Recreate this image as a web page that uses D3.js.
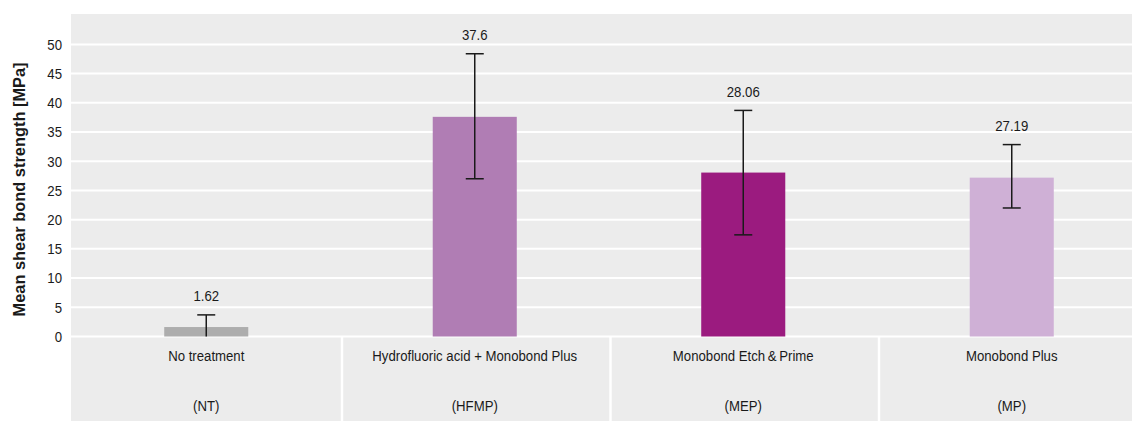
<!DOCTYPE html>
<html>
<head>
<meta charset="utf-8">
<script src="https://cdn.jsdelivr.net/npm/d3@7"></script>
<style>
  html, body { margin: 0; padding: 0; background: #ffffff; }
  svg { display: block; }
  .lbl { font-family: "Liberation Sans", Arial, sans-serif; fill: #1a1a1a; font-size: 15px; }
  .title { font-family: "Liberation Sans", Arial, sans-serif; font-weight: bold; fill: #1a1a1a; }
</style>
</head>
<body>
<svg id="chart" width="1132" height="421"></svg>
<script>
const categories = ["No treatment", "Hydrofluoric acid + Monobond Plus", "Monobond Etch\u2009&\u2009Prime", "Monobond Plus"];
const abbreviations = ["(NT)", "(HFMP)", "(MEP)", "(MP)"];
const means = [1.62, 37.6, 28.06, 27.19];
const errLow = [-0.4, 27.0, 17.4, 22.0];
const errHigh = [3.7, 48.4, 38.7, 32.85];
const valueLabels = ["1.62", "37.6", "28.06", "27.19"];
const barColors = ["#adadad", "#b07db4", "#9b1b7f", "#cfb0d6"];
const yTicks = [0, 5, 10, 15, 20, 25, 30, 35, 40, 45, 50];
const yTitle = "Mean shear bond strength [MPa]";

const W = 1132, H = 421;
const plotLeft = 71, plotTop = 14;
const narrow = 0.88;
const svg = d3.select("#chart");

const y = d3.scaleLinear().domain([0, 50]).range([336.5, 44.4]);
const x = d3.scaleBand().domain(categories).range([72, 1146]).padding(0);
const barW = x.bandwidth() * 0.313;
const cx = d => x(d) + x.bandwidth() / 2;

// condensed-looking label helper
function label(parent, data, fx, fy, anchor, txt, dy) {
  parent.append("g").selectAll("g").data(data).join("g")
    .attr("transform", (d, i) => `translate(${fx(d, i)},${fy(d, i)}) scale(${narrow},1)`)
    .append("text").attr("class", "lbl")
    .attr("text-anchor", anchor)
    .attr("dy", dy || 0)
    .text(txt);
}

// background
svg.append("rect").attr("x", plotLeft).attr("y", plotTop)
  .attr("width", W - plotLeft).attr("height", H - plotTop).attr("fill", "#ececec");

// gridlines
svg.append("g").selectAll("line").data(yTicks).join("line")
  .attr("x1", plotLeft).attr("x2", W)
  .attr("y1", d => y(d)).attr("y2", d => y(d))
  .attr("stroke", "#ffffff").attr("stroke-width", 2);

// category separators
svg.append("g").selectAll("line").data(categories.slice(1)).join("line")
  .attr("x1", d => x(d) + 1.5).attr("x2", d => x(d) + 1.5)
  .attr("y1", y(0)).attr("y2", H)
  .attr("stroke", "#ffffff").attr("stroke-width", 2.5);

// y tick labels
label(svg, yTicks, () => 62, d => y(d), "end", d => d, "0.36em");

// y title
svg.append("text").attr("class", "title")
  .attr("transform", `translate(25,${(y(0) + y(50)) / 2 - 1}) rotate(-90)`)
  .attr("text-anchor", "middle").attr("font-size", 16.4)
  .text(yTitle);

// bars
svg.append("g").selectAll("rect").data(categories).join("rect")
  .attr("x", d => cx(d) - barW / 2)
  .attr("y", (d, i) => y(means[i]))
  .attr("width", barW)
  .attr("height", (d, i) => y(0) - y(means[i]))
  .attr("fill", (d, i) => barColors[i]);

// error bars
const eb = svg.append("g").attr("stroke", "#1a1a1a").attr("stroke-width", 1.5);
categories.forEach((c, i) => {
  const lo = Math.max(0, errLow[i]);
  eb.append("line").attr("x1", cx(c)).attr("x2", cx(c))
    .attr("y1", y(lo)).attr("y2", y(errHigh[i]));
  eb.append("line").attr("x1", cx(c) - 9).attr("x2", cx(c) + 9)
    .attr("y1", y(errHigh[i])).attr("y2", y(errHigh[i]));
  if (errLow[i] > 0) {
    eb.append("line").attr("x1", cx(c) - 9).attr("x2", cx(c) + 9)
      .attr("y1", y(lo)).attr("y2", y(lo));
  }
});

// value labels
label(svg, categories, d => cx(d), (d, i) => y(errHigh[i]) - 13.5, "middle", (d, i) => valueLabels[i]);

// category labels
label(svg, categories, d => cx(d), () => 360.5, "middle", d => d);
label(svg, categories, d => cx(d), () => 411, "middle", (d, i) => abbreviations[i]);
</script>
</body>
</html>
